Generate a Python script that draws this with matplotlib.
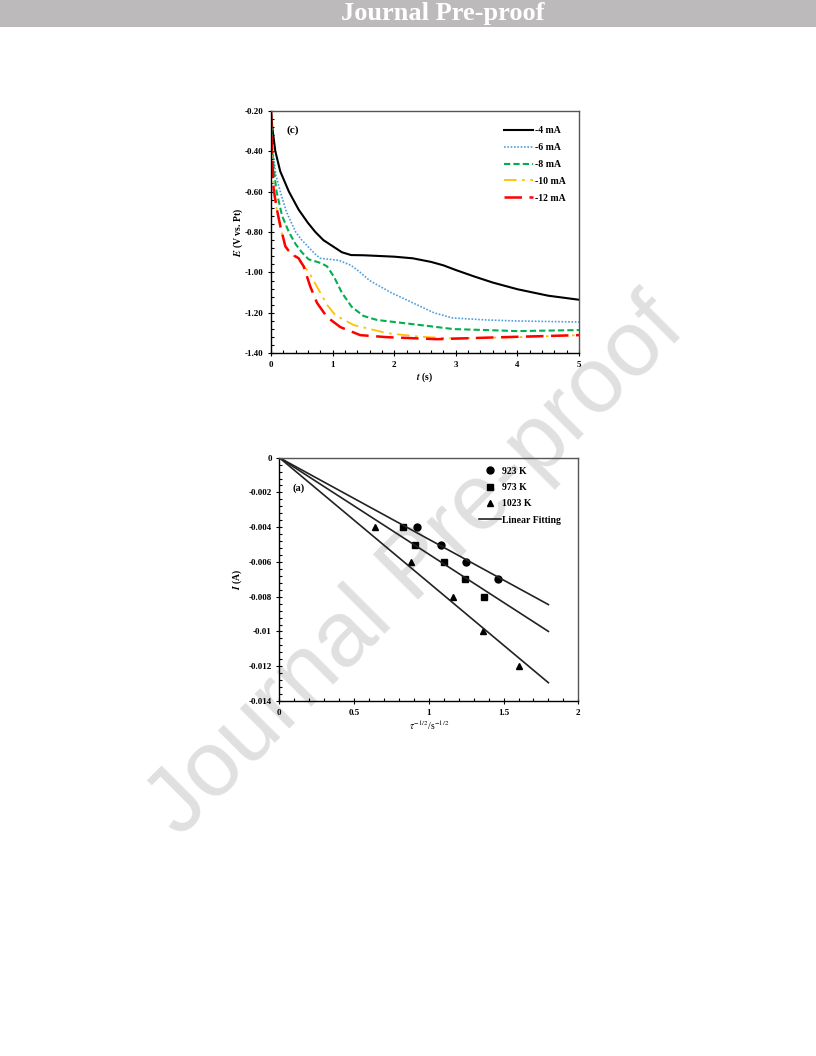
import matplotlib
matplotlib.use('Agg')
import matplotlib.pyplot as plt
import matplotlib.ticker as mtick
from matplotlib.patches import Rectangle
import numpy as np

plt.rcParams['font.family'] = ['Liberation Serif', 'DejaVu Serif']
plt.rcParams['mathtext.fontset'] = 'stix'

# chronopotentiograms, panel (c)
t_4 = [0, 0.02, 0.07, 0.15, 0.29, 0.45, 0.60, 0.72, 0.85, 1.0, 1.15, 1.3, 1.5, 2.0, 2.3, 2.6, 2.8, 3.0, 3.3, 3.6, 4.0, 4.5, 5.0]
E_4 = [-0.20, -0.28, -0.40, -0.50, -0.60, -0.69, -0.755, -0.80, -0.84, -0.87, -0.90, -0.914, -0.915, -0.922,
       -0.93, -0.948, -0.965, -0.988, -1.02, -1.05, -1.083, -1.115, -1.135]
t_6 = [0, 0.01, 0.03, 0.08, 0.15, 0.25, 0.40, 0.50, 0.61, 0.72, 0.80, 0.95, 1.1, 1.3, 1.45, 1.6, 1.95, 2.3,
       2.65, 2.95, 3.5, 4.0, 5.0]
E_6 = [-0.22, -0.30, -0.40, -0.52, -0.60, -0.70, -0.80, -0.84, -0.875, -0.91, -0.93, -0.935, -0.94, -0.965,
       -1.00, -1.04, -1.10, -1.15, -1.20, -1.225, -1.235, -1.24, -1.245]
t_8 = [0, 0.01, 0.02, 0.05, 0.09, 0.18, 0.29, 0.40, 0.50, 0.61, 0.72, 0.82, 0.91, 1.02, 1.15, 1.31, 1.5, 1.72,
       2.42, 2.96, 3.5, 4.0, 5.0]
E_8 = [-0.22, -0.32, -0.40, -0.50, -0.60, -0.72, -0.80, -0.86, -0.90, -0.935, -0.945, -0.955, -0.97, -1.02,
       -1.10, -1.17, -1.215, -1.235, -1.26, -1.28, -1.285, -1.29, -1.285]
t_10 = [0, 0.016, 0.045, 0.10, 0.155, 0.235, 0.32, 0.45, 0.55, 0.62, 0.69, 0.80, 0.91, 1.04, 1.34, 1.88, 2.42,
        2.96, 4.0, 5.0]
E_10 = [-0.20, -0.40, -0.59, -0.70, -0.78, -0.875, -0.905, -0.94, -0.975, -1.00, -1.04, -1.10, -1.16, -1.21,
        -1.26, -1.30, -1.318, -1.326, -1.32, -1.31]
t_12 = [0, 0.016, 0.043, 0.097, 0.151, 0.232, 0.314, 0.449, 0.53, 0.638, 0.746, 0.908, 1.124, 1.449, 1.881,
        2.69, 3.77, 5.0]
E_12 = [-0.20, -0.40, -0.59, -0.69, -0.77, -0.87, -0.905, -0.93, -0.97, -1.07, -1.15, -1.22, -1.27, -1.31,
        -1.32, -1.33, -1.32, -1.31]
curve_labels = ['-4 mA', '-6 mA', '-8 mA', '-10 mA', '-12 mA']

# Sand equation plot, panel (a)
x_923 = [0.92, 1.08, 1.25, 1.46]
I_923 = [-0.004, -0.005, -0.006, -0.007]
x_973 = [0.83, 0.91, 1.10, 1.24, 1.37]
I_973 = [-0.004, -0.005, -0.006, -0.007, -0.008]
x_1023 = [0.64, 0.88, 1.16, 1.36, 1.60]
I_1023 = [-0.004, -0.006, -0.008, -0.010, -0.012]
temp_labels = ['923 K', '973 K', '1023 K']
fit_end = 1.8

fig = plt.figure(figsize=(8.16, 10.56), dpi=100)

# header band
fig.patches.append(Rectangle((0, 1 - 27 / 1056), 1, 27 / 1056, transform=fig.transFigure,
                             facecolor='#bcbaba', edgecolor='none', zorder=0))
fig.text(0.543, 1 - 13.5 / 1056, 'Journal Pre-proof', color='white', fontsize=19, fontweight='bold',
         ha='center', va='center')

# watermark (behind the axes)
fig.text(0.51, 0.462, 'Journal Pre-proof', rotation=45, fontsize=67, color='#e0e0e0',
         family=['Liberation Sans', 'DejaVu Sans'], ha='center', va='center', zorder=-5)


def style_axes(ax):
    ax.set_facecolor('none')
    for s in ['top', 'right']:
        ax.spines[s].set_color('#555555')
    for s in ax.spines.values():
        s.set_linewidth(1.0)
    ax.tick_params(which='major', direction='inout', length=5, width=0.8, labelsize=6.5, pad=3)
    ax.tick_params(which='minor', direction='in', length=2.5, width=0.8)
    for lab in ax.get_xticklabels() + ax.get_yticklabels():
        lab.set_fontweight('bold')


# --- top chart ---
ax1 = fig.add_axes([0.3321, 0.6654, 0.3775, 0.2298])
ax1.plot(t_4, E_4, color='black', lw=1.5, label=curve_labels[0])
ax1.plot(t_6, E_6, color='#4f9ddc', lw=1.2, linestyle=(0, (1, 1)), label=curve_labels[1])
ax1.plot(t_8, E_8, color='#00b050', lw=1.5, linestyle=(0, (3, 1.5)), label=curve_labels[2])
ax1.plot(t_10, E_10, color='#ffc000', lw=1.3, linestyle=(0, (7, 3, 1.5, 3)), label=curve_labels[3])
ax1.plot(t_12, E_12, color='#ff0000', lw=1.8, linestyle=(0, (7, 3)), label=curve_labels[4])
ax1.set_xlim(0, 5)
ax1.set_ylim(-1.40, -0.20)
ax1.set_xticks([0, 1, 2, 3, 4, 5])
ax1.set_yticks([-1.40, -1.20, -1.00, -0.80, -0.60, -0.40, -0.20])
ax1.xaxis.set_minor_locator(mtick.MultipleLocator(0.2))
ax1.yaxis.set_minor_locator(mtick.MultipleLocator(0.04))
ax1.yaxis.set_major_formatter(mtick.FormatStrFormatter('%.2f'))
style_axes(ax1)
ax1.set_xlabel(r'$\mathbfit{t}$ (s)', fontsize=7, fontweight='bold', labelpad=1)
ax1.set_ylabel(r'$\mathbfit{E}$ (V vs. Pt)', fontsize=7, fontweight='bold', labelpad=0)
ax1.text(0.07, 0.92, '(c)', transform=ax1.transAxes, fontsize=8, fontweight='bold', ha='center', va='center')
leg1 = ax1.legend(loc='upper left', bbox_to_anchor=(0.755, 0.935), frameon=False,
                  prop={'size': 7, 'weight': 'bold'}, handlelength=3.0, handletextpad=0.2,
                  labelspacing=0.8, borderpad=0, borderaxespad=0)

# --- bottom chart ---
ax2 = fig.add_axes([0.3423, 0.3362, 0.3664, 0.2304])
series = [(x_923, I_923, 'o'), (x_973, I_973, 's'), (x_1023, I_1023, '^')]
for (xs, ys, m), lab in zip(series, temp_labels):
    ax2.plot(xs, ys, linestyle='none', marker=m, color='black', markersize=5, label=lab)
for i, (xs, ys, m) in enumerate(series):
    xs = np.array(xs)
    ys = np.array(ys)
    slope = np.sum(xs * ys) / np.sum(xs * xs)
    ax2.plot([0, fit_end], [0, slope * fit_end], color='#222222', lw=1.2,
             label='Linear Fitting' if i == 0 else None)
ax2.set_xlim(0, 2)
ax2.set_ylim(-0.014, 0)
ax2.set_xticks([0, 0.5, 1, 1.5, 2])
ax2.set_yticks([-0.014, -0.012, -0.010, -0.008, -0.006, -0.004, -0.002, 0])
ax2.xaxis.set_minor_locator(mtick.MultipleLocator(0.1))
ax2.yaxis.set_minor_locator(mtick.MultipleLocator(0.0004))
ax2.xaxis.set_major_formatter(mtick.FuncFormatter(lambda v, p: '%g' % v))
ax2.yaxis.set_major_formatter(mtick.FuncFormatter(lambda v, p: '0' if abs(v) < 1e-12 else '%g' % round(v, 4)))
style_axes(ax2)
ax2.set_xlabel(r'$\tau^{-1/2}$/s$^{-1/2}$', fontsize=7, labelpad=1)
ax2.set_ylabel(r'$\mathbfit{I}$ (A)', fontsize=7, fontweight='bold', labelpad=3)
ax2.text(0.065, 0.875, '(a)', transform=ax2.transAxes, fontsize=7.5, fontweight='bold', ha='center', va='center')
leg2 = ax2.legend(loc='upper left', bbox_to_anchor=(0.668, 0.963), frameon=False,
                  prop={'size': 7, 'weight': 'bold'}, handlelength=2.3, handletextpad=0.05,
                  labelspacing=0.75, borderpad=0, borderaxespad=0)

fig.savefig('out.png', dpi=100)
